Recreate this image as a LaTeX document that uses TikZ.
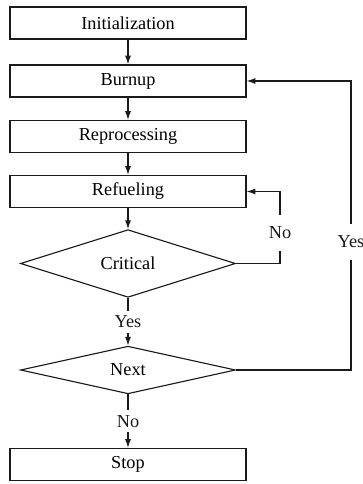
\documentclass[tikz,border=0pt]{standalone}
\usepackage{fontspec}
\setmainfont{Liberation Serif}
\usepackage{tikz}
\usetikzlibrary{arrows.meta,positioning,shapes.geometric}
\definecolor{Ink}{HTML}{1A1A1A}
\tikzset{
  stage/.style={draw=Ink,thick,minimum width=5.9cm,minimum height=0.8cm,inner sep=0pt,font=\fontsize{13}{15}\selectfont},
  check/.style={diamond,draw=Ink,thick,minimum width=5.375cm,minimum height=1.325cm,inner sep=0pt,font=\fontsize{13}{15}\selectfont},
  arrow/.style={-{Latex[length=2.2mm,width=1.5mm]},thick,draw=Ink},
  answer/.style={fill=white,text=Ink,inner xsep=2pt,inner ysep=3.5pt,font=\fontsize{13}{15}\selectfont},
  sideanswer/.style={answer,inner ysep=8.5pt}
}
\begin{document}
\begin{tikzpicture}
  \useasboundingbox (0,0) rectangle (9.075,-12.1);
  % main chain
  \node[stage] (init) at (3.2,-0.575) {Initialization};
  \node[stage] (burnup) at (3.2,-2.025) {Burnup};
  \node[stage] (repro) at (3.2,-3.4125) {Reprocessing};
  \node[stage] (refuel) at (3.2,-4.7875) {Refueling};
  \node[check] (critical) at (3.2,-6.5875) {Critical};
  \node[check,minimum height=1.05cm] (next) at (3.2,-9.25) {Next};
  \node[stage] (stop) at (3.2,-11.6125) {Stop};
  \draw[arrow] (init) -- (burnup);
  \draw[arrow] (burnup) -- (repro);
  \draw[arrow] (repro) -- (refuel);
  \draw[arrow] (refuel) -- (critical);
  \draw[arrow] (critical) -- node[answer] (yesdown) {Yes} (next);
  \draw[arrow] (next) -- node[answer] (nodown) {No} (stop);
  % feedback loops
  \coordinate (noback) at (7,-4.7875);
  \coordinate (yesback) at (8.775,-2.025);
  \draw[arrow] (critical.east) -| (noback) -- (refuel.east);
  \draw[arrow] (next.east) -| (yesback) -- (burnup.east);
  \node[sideanswer] (noside) at (7,-5.825) {No};
  \node[sideanswer] (yesside) at (8.775,-6.05) {Yes};
\end{tikzpicture}
\end{document}
